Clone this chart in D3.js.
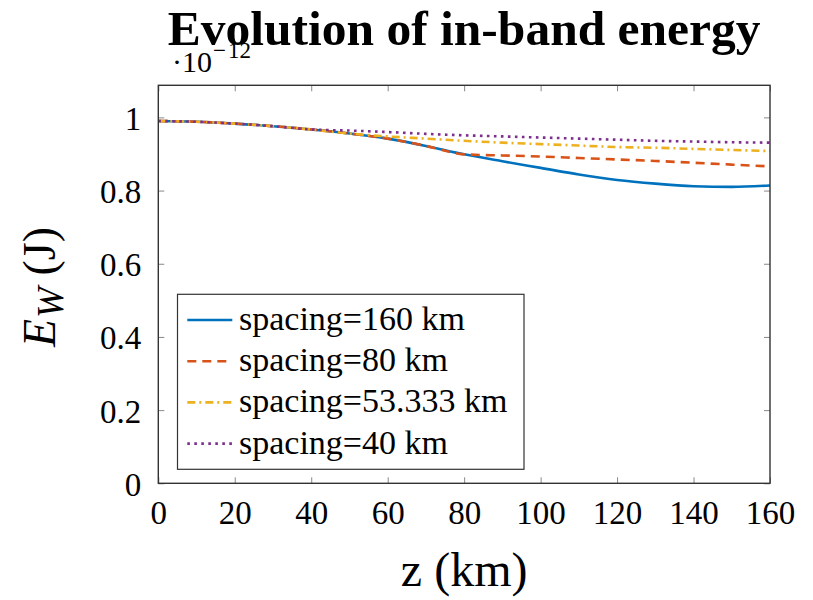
<!DOCTYPE html>
<html>
<head>
<meta charset="utf-8">
<script src="https://cdn.jsdelivr.net/npm/d3@7"></script>
<style>
  html, body { margin: 0; padding: 0; background: #fff; }
  svg { display: block; }
  text { font-family: "Liberation Serif", "Times New Roman", serif; fill: #000; }
</style>
</head>
<body>
<svg id="chart" width="813" height="600"></svg>
<script>
// Propagation distance (km)
const zKm = [0, 10, 20, 30, 40, 50, 60, 70, 80, 90, 100, 110, 120, 130, 140, 150, 160];

// In-band energy, in units of 1e-12 J, one array per amplifier spacing
const spacing160 = [0.990, 0.988, 0.983, 0.976, 0.967, 0.956, 0.942, 0.922, 0.899, 0.880, 0.862, 0.844, 0.829, 0.819, 0.812, 0.810, 0.814];
const spacing80  = [0.990, 0.988, 0.983, 0.976, 0.967, 0.956, 0.942, 0.922, 0.899, 0.896, 0.893, 0.889, 0.885, 0.881, 0.876, 0.871, 0.866];
const spacing53  = [0.990, 0.988, 0.983, 0.976, 0.967, 0.956, 0.948, 0.942, 0.936, 0.931, 0.927, 0.923, 0.919, 0.917, 0.914, 0.911, 0.908];
const spacing40  = [0.990, 0.988, 0.983, 0.976, 0.967, 0.964, 0.960, 0.955, 0.951, 0.948, 0.945, 0.942, 0.939, 0.936, 0.934, 0.932, 0.931];

const seriesNames = ["spacing=160 km", "spacing=80 km", "spacing=53.333 km", "spacing=40 km"];
const seriesValues = [spacing160, spacing80, spacing53, spacing40];
const seriesColors = ["#0072BD", "#D95319", "#EDB120", "#7E2F8E"];
const seriesDashes = [null, "9 6", "8 4 2 4", "2.6 4.4"];

const xTicks = [0, 20, 40, 60, 80, 100, 120, 140, 160];
const yTicks = [0, 0.2, 0.4, 0.6, 0.8, 1];

const serif = '"Liberation Serif", "Times New Roman", serif';
const svg = d3.select("#chart");
const plotL = 158.3, plotR = 770, plotT = 85.3, plotB = 483.3;

const x = d3.scaleLinear().domain([0, 160]).range([plotL, plotR]);
const y = d3.scaleLinear().domain([0, 1.0877]).range([plotB, plotT]);

const axisColor = "#333";
const tickLen = 6;

// Inward ticks on all four sides (mirrored)
const gx = svg.append("g").attr("transform", `translate(0,${plotB})`)
  .call(d3.axisBottom(x).tickValues(xTicks).tickSizeInner(-tickLen).tickSizeOuter(0)
    .tickFormat(d3.format("d")));
const gxt = svg.append("g").attr("transform", `translate(0,${plotT})`)
  .call(d3.axisTop(x).tickValues(xTicks).tickSizeInner(-tickLen).tickSizeOuter(0).tickFormat(""));
const gy = svg.append("g").attr("transform", `translate(${plotL},0)`)
  .call(d3.axisLeft(y).tickValues(yTicks).tickSizeInner(-tickLen).tickSizeOuter(0).tickPadding(17)
    .tickFormat(d => d === 0 || d === 1 ? d3.format("d")(d) : d3.format(".1f")(d)));
const gyr = svg.append("g").attr("transform", `translate(${plotR},0)`)
  .call(d3.axisRight(y).tickValues(yTicks).tickSizeInner(-tickLen).tickSizeOuter(0).tickFormat(""));

[gx, gxt, gy, gyr].forEach(g => {
  g.attr("font-family", serif);
  g.select(".domain").remove();
  g.selectAll(".tick line").attr("stroke", "#888").attr("stroke-width", 1);
  g.selectAll(".tick text")
    .style("font-family", serif)
    .style("font-size", "33px").attr("fill", "#000");
});
gx.selectAll(".tick text").attr("y", 41).attr("dy", 0);
gy.selectAll(".tick text").attr("y", 12).attr("dy", 0);

// Curves
const line = d3.line()
  .x((d, i) => x(zKm[i]))
  .y(d => y(d))
  .curve(d3.curveMonotoneX);

svg.append("clipPath").attr("id", "plotClip")
  .append("rect").attr("x", plotL).attr("y", plotT).attr("width", plotR - plotL).attr("height", plotB - plotT);

const curves = svg.append("g").attr("clip-path", "url(#plotClip)");
seriesValues.forEach((vals, k) => {
  curves.append("path")
    .attr("d", line(vals))
    .attr("fill", "none")
    .attr("stroke", seriesColors[k])
    .attr("stroke-width", 2.6)
    .attr("stroke-dasharray", seriesDashes[k]);
});

// Plot frame
svg.append("rect")
  .attr("x", plotL).attr("y", plotT)
  .attr("width", plotR - plotL).attr("height", plotB - plotT)
  .attr("fill", "none").attr("stroke", axisColor).attr("stroke-width", 1.4);

// Legend
const lg = svg.append("g");
lg.append("rect")
  .attr("x", 177.5).attr("y", 294.3).attr("width", 346.5).attr("height", 175)
  .attr("fill", "#fff").attr("stroke", axisColor).attr("stroke-width", 1.2);
seriesNames.forEach((name, k) => {
  const cy = 320 + k * 41.2;
  lg.append("line")
    .attr("x1", 187.3).attr("x2", 232.3).attr("y1", cy).attr("y2", cy)
    .attr("stroke", seriesColors[k]).attr("stroke-width", 2.6)
    .attr("stroke-dasharray", seriesDashes[k]);
  lg.append("text")
    .attr("x", 239).attr("y", cy + 10)
    .style("font-family", serif)
    .style("font-size", "34px")
    .text(name);
});

// Title
svg.append("text")
  .attr("x", (plotL + plotR) / 2).attr("y", 45)
  .attr("text-anchor", "middle")
  .style("font-family", serif)
  .style("font-size", "49.5px").style("font-weight", "bold")
  .text("Evolution of in-band energy");

// Scale factor label
const sf = svg.append("text").attr("x", 172).attr("y", 72)
  .style("font-family", serif).style("font-size", "30px");
sf.append("tspan").text("·10");
sf.append("tspan").attr("dy", -14).attr("dx", 1).style("font-size", "23px").text("−");
sf.append("tspan").attr("dx", 2).style("font-size", "23px").text("12");

// Axis labels
svg.append("text")
  .attr("x", (plotL + plotR) / 2).attr("y", 586)
  .attr("text-anchor", "middle")
  .style("font-family", serif)
  .style("font-size", "48px")
  .text("z (km)");

const yl = svg.append("text")
  .attr("transform", `translate(55,287) rotate(-90)`)
  .attr("text-anchor", "middle")
  .style("font-family", serif)
  .style("font-size", "46px");
yl.append("tspan").style("font-style", "italic").text("E");
yl.append("tspan").attr("dy", 8).attr("dx", 1).style("font-size", "37px").style("font-style", "italic").text("W");
yl.append("tspan").attr("dy", -8).text(" (J)");
</script>
</body>
</html>
